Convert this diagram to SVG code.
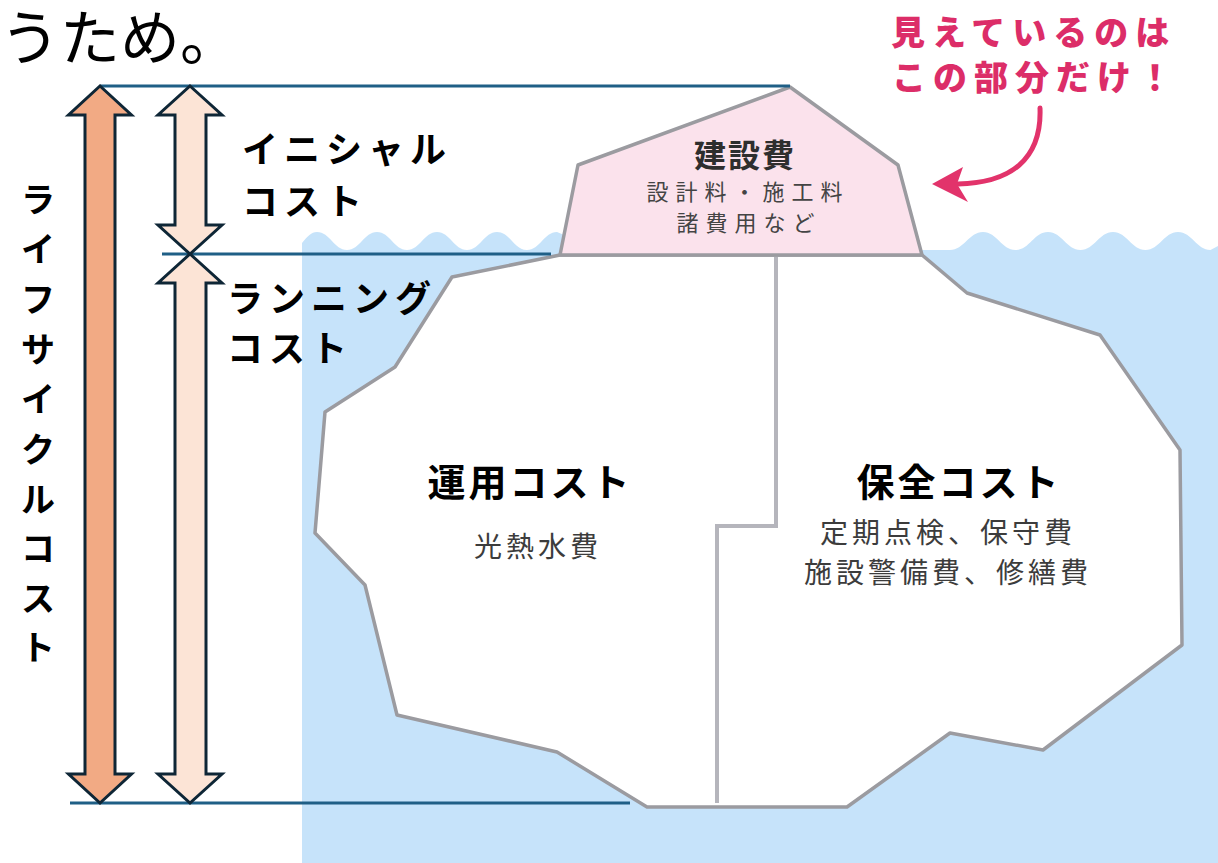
<svg xmlns="http://www.w3.org/2000/svg" width="1218" height="863" viewBox="0 0 1218 863">
<style>
.jp{font-family:"Noto Sans CJK JP","Noto Sans",sans-serif}
.b{font-weight:700}
.lbl{font-size:36px;fill:#000;letter-spacing:6px}
.head{font-size:38px;fill:#000;letter-spacing:3px;text-anchor:middle}
.sub{font-size:28px;fill:#3c3c3c;letter-spacing:4px;text-anchor:middle}
.tsub{font-size:22px;fill:#444;letter-spacing:7px;text-anchor:middle}
.pink{font-size:34px;fill:#dc2d68;letter-spacing:7px;font-weight:900}
.berg{stroke:#9b9ba0;stroke-width:3.5;stroke-linejoin:round}
.arr{stroke:#0e2636;stroke-width:3;stroke-linejoin:miter}
.guide{stroke:#1f5f86;stroke-width:3;fill:none}
</style>
<g id="water">
<path fill="#c6e3fa" d="M302,863 L302,243 C308,236 311,232 317,232 C330,232 334,250 347,250 C360,250 364,232 377,232 C390,232 394,250 407,250 C420,250 424,232 437,232 C450,232 454,250 467,250 C480,250 484,232 497,232 C510,232 514,250 527,250 C540,250 544,232 557,232 L600,250 L950,250 C964,250 969,232 983,232 C997,232 1001.5,250 1015.5,250 C1029.5,250 1034,232 1048,232 C1062,232 1066.5,250 1080.5,250 C1094.5,250 1099,232 1113,232 C1127,232 1131.5,250 1145.5,250 C1159.5,250 1164,232 1178,232 C1192,232 1196.5,250 1210.5,250 L1218,246 L1218,863 Z"/>
</g>
<g id="iceberg-underwater">
<polygon class="berg" fill="#ffffff" points="560,255 452,277 395,367 325,412 315,533 365,585 397,715 557,752 647,807 847,807 950,733 1043,750 1182,645 1180,450 1100,335 967,293 922,255"/>
<polyline fill="none" stroke="#b5b5bc" stroke-width="4" points="776,257 776,526 717,526 717,803"/>
</g>
<g id="iceberg-tip">
<polygon class="berg" fill="#fbe2ec" points="790,87 898,165 922,255 560,255 578,165"/>
<text class="jp b" x="745" y="167" font-size="32" fill="#2e2e2e" text-anchor="middle" letter-spacing="2">建設費</text>
<text class="jp tsub" x="748" y="200">設計料・施工料</text>
<text class="jp tsub" x="749" y="231">諸費用など</text>
</g>
<g id="connectors">
<line class="guide" x1="100" y1="86" x2="790" y2="86"/>
<line class="guide" x1="162" y1="254" x2="551" y2="254"/>
<line class="guide" x1="70" y1="803" x2="630" y2="803"/>
<path d="M1040,108 C1042,160 1010,183 958,184" fill="none" stroke="#e2336b" stroke-width="5" stroke-linecap="round"/>
<polygon fill="#e2336b" points="932,184 963,167 957,184 968,202"/>
</g>
<g id="lifecycle-arrow">
<polygon class="arr" fill="#f2aa84" points="100,86 131.5,115 115,115 115,774 131.5,774 100,803 68.5,774 85,774 85,115 68.5,115"/>
</g>
<g id="initial-arrow">
<polygon class="arr" fill="#fce4d6" points="190,86 222,115 206,115 206,225 222,225 190,254 158,225 175,225 175,115 158,115"/>
</g>
<g id="running-arrow">
<polygon class="arr" fill="#fce4d6" points="190,254 222,283 206,283 206,774 222,774 190,803 158,774 175,774 175,283 158,283"/>
</g>
<g id="lifecycle-label">
<text class="jp b" font-size="34" fill="#000" text-anchor="middle">
<tspan x="38" y="212">ラ</tspan><tspan x="38" y="262">イ</tspan><tspan x="38" y="312">フ</tspan><tspan x="38" y="362">サ</tspan><tspan x="38" y="412">イ</tspan><tspan x="38" y="462">ク</tspan><tspan x="38" y="512">ル</tspan><tspan x="38" y="561">コ</tspan><tspan x="38" y="611">ス</tspan><tspan x="38" y="660">ト</tspan>
</text>
</g>
<g id="initial-label">
<text class="jp b lbl" x="242" y="163">イニシャル</text>
<text class="jp b lbl" x="242" y="215">コスト</text>
</g>
<g id="running-label">
<text class="jp b lbl" x="227" y="312">ランニング</text>
<text class="jp b lbl" x="227" y="362">コスト</text>
</g>
<g id="operation-cost">
<text class="jp b head" x="530" y="496">運用コスト</text>
<text class="jp sub" x="538" y="557">光熱水費</text>
</g>
<g id="maintenance-cost">
<text class="jp b head" x="959" y="496">保全コスト</text>
<text class="jp sub" x="948" y="543">定期点検、保守費</text>
<text class="jp sub" x="948" y="583">施設警備費、修繕費</text>
</g>
<g id="callout">
<text class="jp pink" x="891" y="45">見えているのは</text>
<text class="jp pink" x="892" y="90">この部分だけ！</text>
</g>
<g id="header">
<text class="jp" x="0" y="60" font-size="60" fill="#000">うため。</text>
</g>
</svg>
